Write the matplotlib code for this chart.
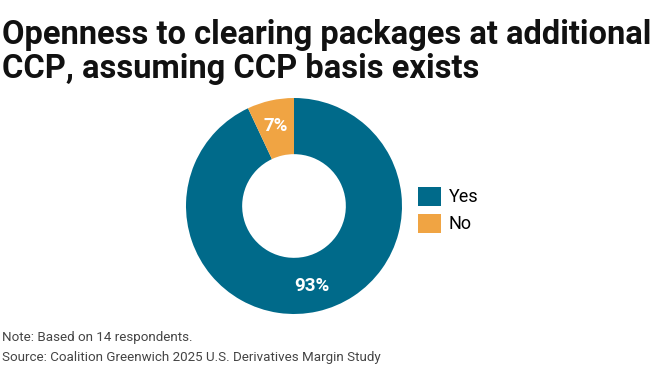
import matplotlib.pyplot as plt
from matplotlib.patches import Patch

labels = ["Yes", "No"]
shares = [93, 7]
colors = ["#006A8A", "#F0A443"]

title = "Openness to clearing packages at additional\nCCP, assuming CCP basis exists"
note = "Note: Based on 14 respondents."
source = "Source: Coalition Greenwich 2025 U.S. Derivatives Margin Study"

plt.rcParams['font.family'] = ['Roboto', 'DejaVu Sans']

fig = plt.figure(figsize=(6.64, 3.86), dpi=100)
ax = fig.add_axes([186 / 664, 1 - 314 / 386, 216 / 664, 216 / 386])

wedges, texts, autotexts = ax.pie(
    shares, colors=colors, startangle=90, counterclock=False,
    wedgeprops=dict(width=0.52, edgecolor='none'),
    autopct=lambda p: f"{p:.0f}%", pctdistance=0.76,
    textprops=dict(color='white', fontsize=13.5, fontweight='bold'),
)
ax.set_xlim(-1, 1)
ax.set_ylim(-1, 1)

handles = [Patch(facecolor=c, edgecolor='none') for c in colors]
fig.legend(handles, labels, loc='center left', bbox_to_anchor=(418 / 664, 1 - 210 / 386),
           frameon=False, fontsize=13, handlelength=1.25, handleheight=1.25,
           labelspacing=0.4, handletextpad=0.45, borderaxespad=0, borderpad=0)

fig.text(0.003, 1 - 19 / 386, title, ha='left', va='top', fontsize=23.5,
         fontweight='bold', color='#111111', linespacing=1.08)
fig.text(0.003, 1 - 338 / 386, note, ha='left', va='center', fontsize=9.6, color='#444444')
fig.text(0.003, 1 - 357 / 386, source, ha='left', va='center', fontsize=9.6, color='#444444')

fig.savefig("out.png", dpi=100)
